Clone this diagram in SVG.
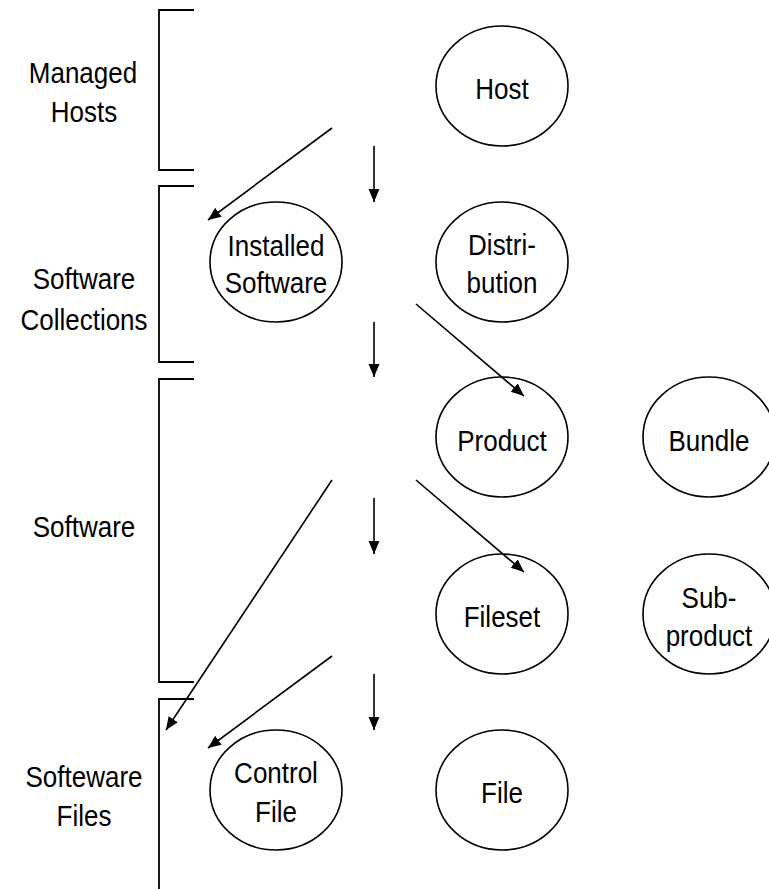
<svg xmlns="http://www.w3.org/2000/svg" width="769" height="889" viewBox="0 0 769 889">
<style>
  .br{fill:none;stroke:#000;stroke-width:1.8}
  .el{fill:none;stroke:#000;stroke-width:1.6}
  .t{font-family:"Liberation Sans",Arial,sans-serif;font-size:26px;fill:#000;text-anchor:middle}
  .ar{fill:none;stroke:#000;stroke-width:1.6;marker-end:url(#ah)}
</style>
<defs>
  <marker id="ah" markerUnits="userSpaceOnUse" markerWidth="14" markerHeight="12" refX="13" refY="5.5" orient="auto">
    <path d="M0,0 L13,5.5 L0,11 z" fill="#000"/>
  </marker>
</defs>
<rect width="769" height="889" fill="#fff"/>

<g id="brackets">
  <path class="br" d="M194,10 H159 V170 H194"/>
  <path class="br" d="M194,186 H159 V362 H194"/>
  <path class="br" d="M194,379 H159 V682 H194"/>
  <path class="br" d="M194,699 H159 V889"/>
</g>

<g id="level-labels">
  <text class="t" transform="translate(83,82.5) scale(1,1.17)">Managed</text>
  <text class="t" transform="translate(84,121.5) scale(1,1.17)">Hosts</text>
  <text class="t" transform="translate(84,289) scale(1,1.17)">Software</text>
  <text class="t" transform="translate(84,330) scale(1,1.17)">Collections</text>
  <text class="t" transform="translate(84,537) scale(1,1.17)">Software</text>
  <text class="t" transform="translate(84,787) scale(1,1.17)">Softeware</text>
  <text class="t" transform="translate(84,826) scale(1,1.17)">Files</text>
</g>

<g id="host">
  <ellipse class="el" cx="502" cy="86" rx="66" ry="60"/>
  <text class="t" transform="translate(502,99) scale(1,1.17)">Host</text>
</g>
<g id="installed-software">
  <ellipse class="el" cx="276" cy="262" rx="66" ry="60"/>
  <text class="t" transform="translate(276,256) scale(1,1.17)">Installed</text>
  <text class="t" transform="translate(276,293) scale(1,1.17)">Software</text>
</g>
<g id="distribution">
  <ellipse class="el" cx="502" cy="262" rx="66" ry="60"/>
  <text class="t" transform="translate(502,255) scale(1,1.17)">Distri-</text>
  <text class="t" transform="translate(502,293) scale(1,1.17)">bution</text>
</g>
<g id="product">
  <ellipse class="el" cx="502" cy="437" rx="66" ry="60"/>
  <text class="t" transform="translate(502,450.5) scale(1,1.17)">Product</text>
</g>
<g id="bundle">
  <ellipse class="el" cx="709" cy="437" rx="66" ry="60"/>
  <text class="t" transform="translate(709,450.5) scale(1,1.17)">Bundle</text>
</g>
<g id="fileset">
  <ellipse class="el" cx="502" cy="614" rx="66" ry="60"/>
  <text class="t" transform="translate(502,627) scale(1,1.17)">Fileset</text>
</g>
<g id="subproduct">
  <ellipse class="el" cx="709" cy="614" rx="66" ry="60"/>
  <text class="t" transform="translate(709,608) scale(1,1.17)">Sub-</text>
  <text class="t" transform="translate(709,646) scale(1,1.17)">product</text>
</g>
<g id="control-file">
  <ellipse class="el" cx="276" cy="790" rx="66" ry="60"/>
  <text class="t" transform="translate(276,783) scale(1,1.17)">Control</text>
  <text class="t" transform="translate(276,821.5) scale(1,1.17)">File</text>
</g>
<g id="file">
  <ellipse class="el" cx="502" cy="790" rx="66" ry="60"/>
  <text class="t" transform="translate(502,802.5) scale(1,1.17)">File</text>
</g>

<g id="connectors">
  <line class="ar" x1="332" y1="128" x2="208" y2="220"/>
  <line class="ar" x1="374" y1="146" x2="374" y2="202"/>
  <line class="ar" x1="374" y1="322" x2="374" y2="377"/>
  <line class="ar" x1="416" y1="304" x2="524" y2="396"/>
  <line class="ar" x1="332" y1="480" x2="166" y2="730"/>
  <line class="ar" x1="374" y1="498" x2="374" y2="554"/>
  <line class="ar" x1="416" y1="480" x2="524" y2="572"/>
  <line class="ar" x1="332" y1="656" x2="208" y2="748"/>
  <line class="ar" x1="374" y1="674" x2="374" y2="730"/>
</g>
</svg>
